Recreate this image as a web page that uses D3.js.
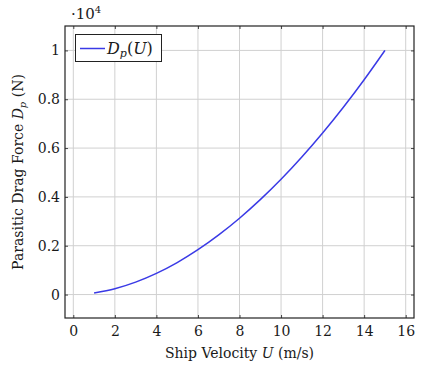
<!DOCTYPE html>
<html><head><meta charset="utf-8">
<script src="https://cdn.jsdelivr.net/npm/d3@7"></script>
<style>
html,body{margin:0;padding:0;background:#fff;}
</style></head>
<body><svg id="c" width="428" height="368"></svg>
<script>
const velocity = [1,2,3,4,5,6,7,8,9,10,11,12,13,14,15];
const dragForce = [67,240,509,867,1310,1836,2442,3126,3887,4720,5634,6618,7674,8800,10000];
const xTicks = [0,2,4,6,8,10,12,14,16];
const yTicks = [0,2000,4000,6000,8000,10000];
const yTickLabels = ["0","0.2","0.4","0.6","0.8","1"];

const FONT = "DejaVu Serif";
const svg = d3.select("#c");
const L=65, T=26, R=414, B=318;
const x = d3.scaleLinear().domain([-0.4,16.4]).range([L,R]);
const y = d3.scaleLinear().domain([-960,11000]).range([B,T]);

const g = svg.append("g");
g.selectAll(".gx").data(xTicks).enter().append("line")
 .attr("x1",d=>x(d)).attr("x2",d=>x(d)).attr("y1",T).attr("y2",B)
 .attr("stroke","#d0d0d0").attr("stroke-width",1);
g.selectAll(".gy").data(yTicks).enter().append("line")
 .attr("y1",d=>y(d)).attr("y2",d=>y(d)).attr("x1",L).attr("x2",R)
 .attr("stroke","#d0d0d0").attr("stroke-width",1);

const xb = svg.append("g").attr("transform",`translate(0,${B})`)
 .call(d3.axisBottom(x).tickValues(xTicks).tickSizeInner(-3).tickSizeOuter(0).tickPadding(8));
const xt = svg.append("g").attr("transform",`translate(0,${T})`)
 .call(d3.axisTop(x).tickValues(xTicks).tickSizeInner(-3).tickSizeOuter(0).tickFormat(""));
const yl = svg.append("g").attr("transform",`translate(${L},0)`)
 .call(d3.axisLeft(y).tickValues(yTicks).tickSizeInner(-3).tickSizeOuter(0).tickPadding(5)
   .tickFormat((d,i)=>yTickLabels[i]));
const yr = svg.append("g").attr("transform",`translate(${R},0)`)
 .call(d3.axisRight(y).tickValues(yTicks).tickSizeInner(-3).tickSizeOuter(0).tickFormat(""));
[xb,xt,yl,yr].forEach(a=>{
  a.attr("font-family",null).attr("font-size",null);
  a.select(".domain").remove();
  a.selectAll("line").attr("stroke","#444");
  a.selectAll("text").style("font-family",FONT).style("font-size","14px").attr("fill","#1a1a1a");
});
svg.append("rect").attr("x",L).attr("y",T).attr("width",R-L).attr("height",B-T)
 .attr("fill","none").attr("stroke","#222").attr("stroke-width",1.2);

const line = d3.line().x((d,i)=>x(velocity[i])).y(d=>y(d)).curve(d3.curveMonotoneX);
svg.append("path").datum(dragForce).attr("d",line)
 .attr("fill","none").attr("stroke","#3a3ae6").attr("stroke-width",1.5);

const m = svg.append("text").attr("x",71).attr("y",19).style("font-size","15px").style("font-family",FONT).attr("fill","#1a1a1a");
m.append("tspan").text("·10");
m.append("tspan").style("font-size","10px").attr("dy",-6).text("4");

svg.append("rect").attr("x",75.5).attr("y",34.5).attr("width",86).attr("height",27)
 .attr("fill","#fff").attr("stroke","#222").attr("stroke-width",1);
svg.append("line").attr("x1",80).attr("x2",105).attr("y1",48.5).attr("y2",48.5)
 .attr("stroke","#3a3ae6").attr("stroke-width",1.5);
const lt = svg.append("text").attr("x",107).attr("y",54).style("font-size","16px").style("font-family",FONT).attr("fill","#1a1a1a");
lt.append("tspan").style("font-style","italic").text("D");
lt.append("tspan").style("font-style","italic").style("font-size","11px").attr("dy",3).text("p");
lt.append("tspan").attr("dy",-3).text("(");
lt.append("tspan").style("font-style","italic").text("U");
lt.append("tspan").text(")");

const xlab = svg.append("text").attr("x",(L+R)/2).attr("y",358).attr("text-anchor","middle")
 .style("font-size","14px").style("font-family",FONT).attr("fill","#1a1a1a");
xlab.append("tspan").text("Ship Velocity ");
xlab.append("tspan").style("font-style","italic").text("U");
xlab.append("tspan").text(" (m/s)");

const ylab = svg.append("text").attr("transform",`translate(23,${(T+B)/2}) rotate(-90)`)
 .attr("text-anchor","middle").style("font-size","14px").style("font-family",FONT).attr("fill","#1a1a1a");
ylab.append("tspan").text("Parasitic Drag Force ");
ylab.append("tspan").style("font-style","italic").text("D");
ylab.append("tspan").style("font-style","italic").style("font-size","10px").attr("dy",3).text("p");
ylab.append("tspan").attr("dy",-3).text(" (N)");
</script></body></html>
